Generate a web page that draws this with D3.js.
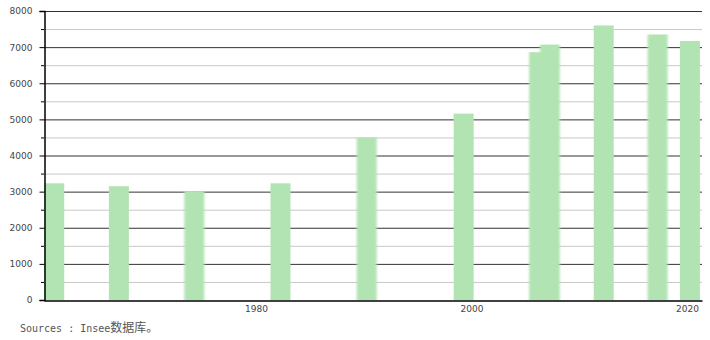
<!DOCTYPE html>
<meta charset="utf-8">
<script src="https://d3js.org/d3.v7.min.js"></script>
<style>
  body { margin: 0; background: #fff; }
  .tick text { font-family: "DejaVu Sans", Verdana, sans-serif; font-size: 9px; fill: #444; }
  .source { font-family: "DejaVu Sans Mono", monospace; font-size: 10px; fill: #555; }
</style>
<div id="chart"></div>
<script>
// census years and population
var years = [1961, 1967, 1974, 1982, 1990, 1999, 2006, 2007, 2012, 2017, 2020];
var population = [3230, 3150, 3010, 3230, 4500, 5160, 6860, 7070, 7600, 7350, 7170];
// some bars look soft-edged in the original
var soft = [false, false, true, false, true, false, true, true, false, true, false];
var yTicks = [0, 1000, 2000, 3000, 4000, 5000, 6000, 7000, 8000];
var xTicks = [1980, 2000, 2020];

var width = 710, height = 340;
var plotLeft = 44, plotRight = 702, plotTop = 11, plotBottom = 300;

var svg = d3.select("#chart").append("svg")
    .attr("width", width)
    .attr("height", height);

svg.append("defs").append("filter")
    .attr("id", "soft")
    .attr("x", "-20%").attr("width", "140%")
  .append("feGaussianBlur")
    .attr("stdDeviation", "1.3 0.4");

var x = d3.scaleLinear()
    .domain([1960.33, 2021.4])
    .range([plotLeft, plotRight]);

var y = d3.scaleLinear()
    .domain([0, 8000])
    .range([plotBottom, plotTop]);

// minor grid every 500
svg.append("g")
  .selectAll("line")
  .data(d3.range(500, 8000, 1000))
  .join("line")
    .attr("x1", plotLeft).attr("x2", plotRight)
    .attr("y1", d => y(d) + 0.5).attr("y2", d => y(d) + 0.5)
    .attr("stroke", "#c8c8c8");

// major grid every 1000
svg.append("g")
  .selectAll("line")
  .data(yTicks.slice(1))
  .join("line")
    .attr("x1", plotLeft).attr("x2", plotRight)
    .attr("y1", d => y(d) + 0.5).attr("y2", d => y(d) + 0.5)
    .attr("stroke", "#333");

// bars (sit a little right of the year mark, as in the original)
var barW = 20;
svg.append("g")
  .selectAll("rect")
  .data(years)
  .join("rect")
    .attr("x", d => x(d) - 7)
    .attr("y", (d, i) => y(population[i]))
    .attr("width", barW)
    .attr("height", (d, i) => plotBottom - y(population[i]))
    .attr("fill", "#b2e4b3")
    .attr("filter", (d, i) => soft[i] ? "url(#soft)" : null);

// y axis
var yAxis = svg.append("g")
    .attr("transform", "translate(" + (plotLeft + 0.5) + ",0)")
    .call(d3.axisLeft(y).tickValues(yTicks).tickSize(5).tickPadding(7).tickFormat(d3.format("d")));
yAxis.select(".domain").attr("stroke", "#000").attr("stroke-width", 1.5);
yAxis.selectAll(".tick line").attr("stroke", "#000");

svg.append("g")
  .selectAll("line")
  .data(d3.range(500, 8000, 1000))
  .join("line")
    .attr("x1", plotLeft - 3).attr("x2", plotLeft)
    .attr("y1", d => y(d) + 0.5).attr("y2", d => y(d) + 0.5)
    .attr("stroke", "#000");

// x axis
var xAxis = svg.append("g")
    .attr("transform", "translate(0," + (plotBottom + 0.5) + ")")
    .call(d3.axisBottom(x).tickValues(xTicks).tickSize(0).tickPadding(5).tickFormat(d3.format("d")));
xAxis.select(".domain").attr("stroke", "#000").attr("stroke-width", 1.5);

svg.append("text")
    .attr("class", "source")
    .attr("x", 20)
    .attr("y", 332)
    .text("Sources : Insee")
  .append("tspan")
    .style("font-family", "'Noto Sans CJK SC', sans-serif")
    .style("font-size", "12px")
    .text("数据库。");
</script>
